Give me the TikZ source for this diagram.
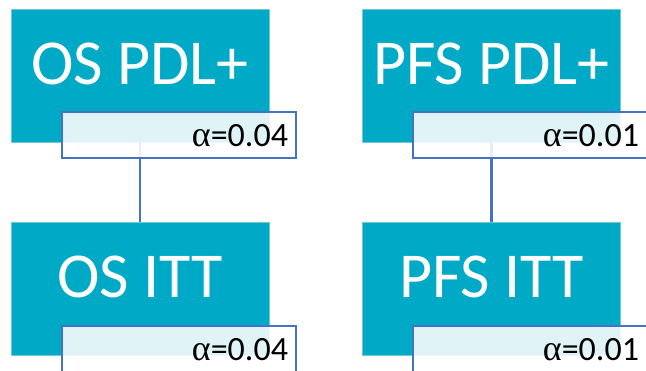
\documentclass[tikz,border=0pt]{standalone}
\usepackage{fontspec}
\setmainfont{Carlito}
\newfontfamily\alphafont{Liberation Serif}
\definecolor{tealbox}{RGB}{0,170,198}
\definecolor{tagblue}{RGB}{68,114,196}
\begin{document}
\begin{tikzpicture}[x=1pt,y=-1pt,
  mainbox/.style={rectangle, fill=tealbox, draw={rgb,255:red,110;green,200;blue,216}, line width=0.5pt,
    minimum width=258pt, minimum height=133pt, inner sep=0pt,
    text=white, text height=75pt, text depth=58pt, font=\fontsize{64}{64}\selectfont},
  tagbox/.style={rectangle, fill=white, fill opacity=0.88, text opacity=1, draw=tagblue, draw opacity=1, line width=2.6pt,
    inner xsep=8pt, inner ysep=0pt, text width=218pt, align=right,
    text height=34pt, text depth=12pt, text=black, font=\fontsize{34}{34}\selectfont},
  link/.style={draw=tagblue, line width=2.6pt}]
\useasboundingbox (0,0) rectangle (646,370);
\clip (0,0) rectangle (646,370);
\node[mainbox] (osp) at (140,75.5) {OS PDL+};
\node[mainbox] (pfsp) at (491.5,75.5) {PFS PDL+};
\node[mainbox] (osi) at (140,288.5) {OS ITT};
\node[mainbox] (pfsi) at (491.5,288.5) {PFS ITT};
\draw[link] (osp.south) -- (osi.north);
\draw[link] (pfsp.south) -- (pfsi.north);
\node[tagbox] (ospa) at (179,135) {{\alphafont\fontsize{36}{36}\selectfont α}=0.04};
\node[tagbox] (pfspa) at (530,135) {{\alphafont\fontsize{36}{36}\selectfont α}=0.01};
\node[tagbox] (osia) at (179,349) {{\alphafont\fontsize{36}{36}\selectfont α}=0.04};
\node[tagbox] (pfsia) at (530,349) {{\alphafont\fontsize{36}{36}\selectfont α}=0.01};
\end{tikzpicture}
\end{document}
